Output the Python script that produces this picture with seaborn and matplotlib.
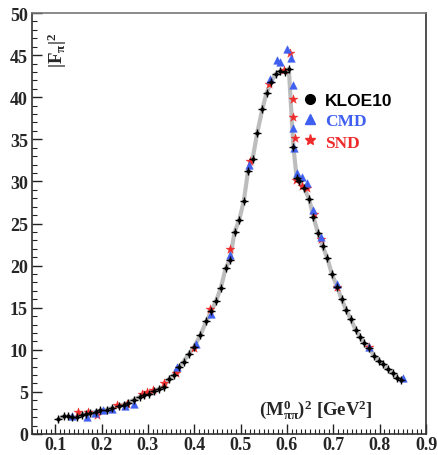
import numpy as np
import pandas as pd
import matplotlib
matplotlib.use("Agg")
import matplotlib.pyplot as plt
from matplotlib.ticker import MultipleLocator
from matplotlib.lines import Line2D
import seaborn as sns

# ---- data ----
kloe_x = [0.107, 0.118, 0.127, 0.137, 0.147, 0.158, 0.167, 0.176, 0.187, 0.197, 0.212, 0.223,
          0.237, 0.248, 0.258, 0.269, 0.282, 0.291, 0.302, 0.313, 0.323, 0.334, 0.345, 0.356,
          0.367, 0.377, 0.388, 0.399, 0.413, 0.426, 0.437, 0.447, 0.457, 0.468, 0.477, 0.487,
          0.497, 0.507, 0.516, 0.526, 0.536, 0.547, 0.556, 0.566, 0.576, 0.586, 0.596, 0.604,
          0.614, 0.621, 0.626, 0.637, 0.648, 0.657, 0.667, 0.677, 0.687, 0.697, 0.708, 0.718,
          0.728, 0.738, 0.748, 0.758, 0.767, 0.777, 0.788, 0.798, 0.808, 0.817, 0.828, 0.837,
          0.847]
kloe_y = [1.8, 2.1, 2.1, 2.0, 2.0, 2.3, 2.4, 2.5, 2.6, 2.8, 2.9, 3.1,
          3.3, 3.5, 3.7, 4.05, 4.4, 4.6, 4.8, 5.1, 5.35, 5.6, 6.5, 7.05,
          7.9, 8.6, 9.5, 10.3, 11.7, 13.4, 14.6, 15.8, 17.3, 19.7, 20.7, 24.0,
          25.4, 27.7, 31.2, 32.7, 35.8, 38.6, 40.5, 41.8, 42.8, 43.1, 43.0, 43.4,
          34.1, 30.4, 30.0, 29.2, 27.9, 25.8, 23.9, 22.3, 20.9, 19.0, 17.5, 16.0,
          14.7, 13.6, 12.4, 11.5, 10.8, 10.2, 9.3, 8.7, 8.3, 7.7, 7.2, 6.7,
          6.4]

cmd_x = [0.136, 0.168, 0.186, 0.204, 0.223, 0.251, 0.271, 0.363, 0.403, 0.437, 0.477, 0.518,
         0.563, 0.579, 0.586, 0.600, 0.609, 0.612, 0.612, 0.615, 0.622, 0.632, 0.644, 0.657,
         0.673, 0.708, 0.777, 0.850]
cmd_y = [2.1, 2.0, 2.5, 2.8, 3.0, 3.3, 3.6, 7.9, 10.7, 14.2, 21.3, 31.9,
         42.2, 44.4, 44.2, 45.7, 44.7, 41.4, 36.3, 34.0, 31.0, 30.5, 29.8, 26.6,
         23.4, 17.8, 10.3, 6.7]

snd_x = [0.150, 0.170, 0.190, 0.233, 0.255, 0.287, 0.298, 0.312, 0.334, 0.361, 0.399, 0.435,
         0.477, 0.520, 0.561, 0.594, 0.607, 0.612, 0.612, 0.617, 0.620, 0.632, 0.643, 0.658,
         0.673, 0.708, 0.777]
snd_y = [2.6, 2.6, 2.3, 3.4, 3.6, 4.7, 5.0, 5.2, 6.0, 7.2, 10.2, 14.8,
         22.0, 32.4, 41.6, 43.2, 45.3, 39.8, 37.6, 35.1, 30.2, 29.5, 29.2, 26.1,
         23.2, 17.5, 10.3]

xticks = [0.1, 0.2, 0.3, 0.4, 0.5, 0.6, 0.7, 0.8, 0.9]
yticks = [0, 5, 10, 15, 20, 25, 30, 35, 40, 45, 50]
legend_labels = ["KLOE10", "CMD", "SND"]

kloe = pd.DataFrame({"x": kloe_x, "y": kloe_y})
cmd = pd.DataFrame({"x": cmd_x, "y": cmd_y})
snd = pd.DataFrame({"x": snd_x, "y": snd_y})

sns.set_theme(style="ticks")
plt.rcParams["font.family"] = ["Liberation Serif", "DejaVu Serif"]
plt.rcParams["font.weight"] = "bold"
plt.rcParams["mathtext.fontset"] = "custom"
plt.rcParams["mathtext.rm"] = "Liberation Serif:bold"
plt.rcParams["mathtext.it"] = "Liberation Serif:italic:bold"
plt.rcParams["mathtext.bf"] = "Liberation Serif:bold"
plt.rcParams["mathtext.default"] = "rm"

BLUE = "#3f5ff0"
RED = "#ee2a2a"

fig = plt.figure(figsize=(4.38, 4.56), dpi=100)
ax = fig.add_axes([32/438, 1-435/456, 394/438, 421/456])

# fit curve (grey band)
sns.lineplot(data=kloe, x="x", y="y", ax=ax, color="#bdbdbd", lw=3.0, sort=True,
             estimator=None, zorder=1)

# SND stars
sns.scatterplot(data=snd, x="x", y="y", ax=ax, marker="*", s=45, color=RED,
                edgecolor=RED, linewidth=0.3, zorder=3)
# CMD triangles
sns.scatterplot(data=cmd, x="x", y="y", ax=ax, marker="^", s=30, color=BLUE,
                edgecolor=BLUE, linewidth=0.3, zorder=4)
# KLOE points: dot with small cross
sns.scatterplot(data=kloe, x="x", y="y", ax=ax, marker="+", s=28, color="black",
                linewidth=1.0, zorder=5)
sns.scatterplot(data=kloe, x="x", y="y", ax=ax, marker="o", s=9, color="black",
                edgecolor="black", linewidth=0, zorder=6)

ax.set_xlim(0.05, 0.9)
ax.set_ylim(0, 50)
ax.set_xticks(xticks)
ax.set_yticks(yticks)
ax.set_xticklabels([f"{v:.1f}" for v in xticks])
ax.set_yticklabels([str(v) for v in yticks])
ax.xaxis.set_minor_locator(MultipleLocator(0.01))
ax.yaxis.set_minor_locator(MultipleLocator(1))
ax.tick_params(axis="both", which="major", direction="in", length=7, width=1.0,
               labelsize=13, top=False, right=False, color="#222222")
ax.tick_params(axis="x", which="major", pad=1.5)
ax.tick_params(axis="y", which="major", pad=3)
ax.tick_params(axis="both", which="minor", direction="in", length=3.5, width=0.8,
               top=False, right=False, color="#222222")
for lab in ax.get_xticklabels() + ax.get_yticklabels():
    lab.set_fontweight("bold")
for sp in ax.spines.values():
    sp.set_visible(True)
    sp.set_linewidth(1.2)
    sp.set_color("#333333")
ax.spines["top"].set_color("#777777")
ax.set_xlabel("")
ax.set_ylabel("")

# axis titles inside the frame
fig.text(57/438, 1-50/456, r"$|F_{\pi}|^{2}$", rotation=90, fontsize=13.5,
         ha="center", va="center")
ax.text(0.72, 0.058, r"$(M^{0}_{\pi\pi})^{2}$ [GeV$^{2}$]", transform=ax.transAxes,
        fontsize=13.5, ha="center", va="center", fontweight="bold")

# legend
handles = [
    Line2D([], [], marker="o", ls="", color="black", markersize=7),
    Line2D([], [], marker="^", ls="", color=BLUE, markersize=7.5),
    Line2D([], [], marker="*", ls="", color=RED, markersize=8),
]
leg = ax.legend(handles, legend_labels, loc="upper left",
                bbox_to_anchor=(294/438, 1-85/456), bbox_transform=fig.transFigure,
                frameon=False, fontsize=12.5, handlelength=0.8, handletextpad=0.5,
                labelspacing=0.3, borderpad=0)
cols = ["black", BLUE, RED]
for t, c in zip(leg.get_texts(), cols):
    t.set_color(c)
    t.set_fontweight("bold")
leg.get_texts()[0].set_fontfamily(["Liberation Sans", "DejaVu Sans"])

fig.savefig("out.png", dpi=100)
